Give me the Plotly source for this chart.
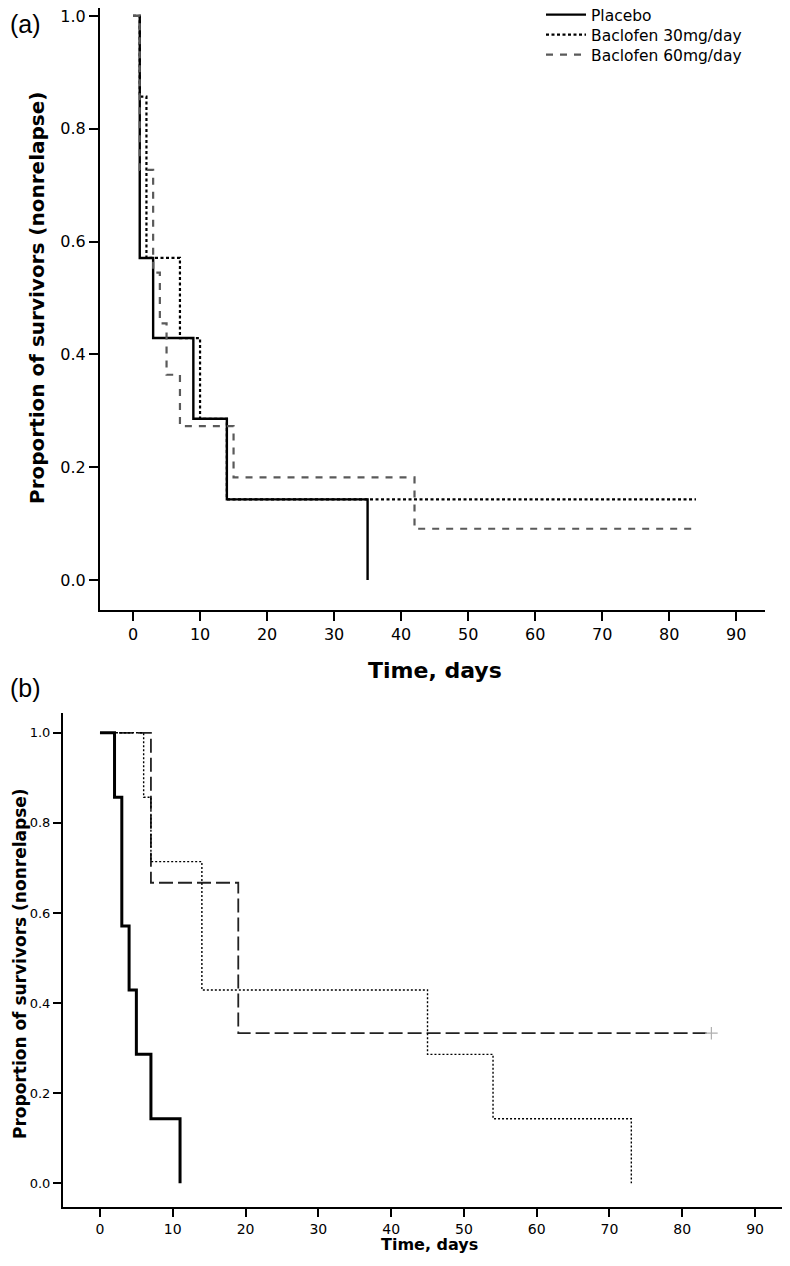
import plotly.graph_objects as go

# ---------------- data ----------------
series_names = ["Placebo", "Baclofen 30mg/day", "Baclofen 60mg/day"]

# Panel (a)
a_placebo_t = [0, 1, 3, 9, 14, 35]
a_placebo_s = [1.0, 0.571, 0.429, 0.286, 0.143, 0.0]
a_bac30_t = [0, 1, 2, 7, 10, 14, 84]
a_bac30_s = [1.0, 0.857, 0.571, 0.429, 0.286, 0.143, 0.143]
a_bac60_t = [0, 1, 3, 4, 5, 7, 15, 42, 84]
a_bac60_s = [1.0, 0.727, 0.545, 0.455, 0.364, 0.273, 0.182, 0.091, 0.091]

# Panel (b)
b_placebo_t = [0, 2, 3, 4, 5, 7, 11]
b_placebo_s = [1.0, 0.857, 0.571, 0.429, 0.286, 0.143, 0.0]
b_bac30_t = [0, 6, 7, 14, 45, 54, 73]
b_bac30_s = [1.0, 0.857, 0.714, 0.429, 0.286, 0.143, 0.0]
b_bac60_t = [0, 7, 19, 84]
b_bac60_s = [1.0, 0.667, 0.333, 0.333]
b_censor_t = [84]
b_censor_s = [0.333]

x_ticks = [0, 10, 20, 30, 40, 50, 60, 70, 80, 90]
y_ticks = [0.0, 0.2, 0.4, 0.6, 0.8, 1.0]
y_ticklabels = ["0.0", "0.2", "0.4", "0.6", "0.8", "1.0"]

# ---------------- figure ----------------
# the page body has an 8px margin, so the figure is 8px smaller than the window
OFF = 8
W, H = 790 - OFF, 1266 - OFF
FONT = "DejaVu Sans"


def fx(p):
    """reference pixel x -> paper fraction"""
    return (p - OFF) / W


def fy(p):
    """reference pixel y -> paper fraction"""
    return 1 - (p - OFF) / H


fig = go.Figure()

# panel a traces (each in its own one-row legend)
fig.add_trace(go.Scatter(x=a_placebo_t, y=a_placebo_s, mode="lines", line_shape="hv",
                         name=series_names[0], legend="legend",
                         line=dict(color="black", width=2.4),
                         xaxis="x", yaxis="y"))
fig.add_trace(go.Scatter(x=a_bac30_t, y=a_bac30_s, mode="lines", line_shape="hv",
                         name=series_names[1], legend="legend2",
                         line=dict(color="black", width=2.2, dash="3px,2.5px"),
                         xaxis="x", yaxis="y"))
fig.add_trace(go.Scatter(x=a_bac60_t, y=a_bac60_s, mode="lines", line_shape="hv",
                         name=series_names[2], legend="legend3",
                         line=dict(color="#5a5a5a", width=2.2, dash="7px,7px"),
                         xaxis="x", yaxis="y"))

# panel b traces
fig.add_trace(go.Scatter(x=b_bac60_t, y=b_bac60_s, mode="lines", line_shape="hv",
                         showlegend=False, line=dict(color="#222222", width=1.8, dash="14px,5px"),
                         xaxis="x2", yaxis="y2"))
fig.add_trace(go.Scatter(x=b_bac30_t, y=b_bac30_s, mode="lines", line_shape="hv",
                         showlegend=False, line=dict(color="black", width=1.4, dash="2px,2px"),
                         xaxis="x2", yaxis="y2"))
fig.add_trace(go.Scatter(x=b_placebo_t, y=b_placebo_s, mode="lines", line_shape="hv",
                         showlegend=False, line=dict(color="black", width=3),
                         xaxis="x2", yaxis="y2"))
fig.add_trace(go.Scatter(x=b_censor_t, y=b_censor_s, mode="markers", showlegend=False,
                         marker=dict(symbol="cross-thin", size=9,
                                     line=dict(color="#b0b0b0", width=1.2)),
                         xaxis="x2", yaxis="y2"))

axis_common = dict(showgrid=False, zeroline=False, showline=True, linecolor="black",
                   linewidth=2, ticks="outside", tickcolor="black", tickwidth=2,
                   ticklabeloverflow="allow")


def legend_at(row_y):
    return dict(x=fx(541), y=fy(row_y), xanchor="left", yanchor="middle",
                bgcolor="rgba(0,0,0,0)", font=dict(size=15.5, family=FONT),
                itemwidth=40, borderwidth=0)


fig.update_layout(
    width=W, height=H,
    margin=dict(l=0, r=0, t=0, b=0, autoexpand=False),
    paper_bgcolor="white", plot_bgcolor="white",
    font=dict(family=FONT, color="black"),
    xaxis=dict(domain=[fx(100), fx(765)], range=[-4.93, 94.3], anchor="y",
               tickvals=x_ticks, ticklen=9, tickfont=dict(size=16), **axis_common),
    yaxis=dict(domain=[fy(610), 1.0], range=[-0.053, 1.014], anchor="x",
               tickvals=y_ticks, ticktext=y_ticklabels, ticklen=9,
               tickfont=dict(size=16), **axis_common),
    xaxis2=dict(domain=[fx(63), 1.0], range=[-5.08, 94.8], anchor="y2",
                tickvals=x_ticks, ticklen=8, tickfont=dict(size=14), **axis_common),
    yaxis2=dict(domain=[fy(1207), fy(713)], range=[-0.053, 1.044], anchor="x2",
                tickvals=y_ticks, ticktext=y_ticklabels, ticklen=8,
                tickfont=dict(size=13), **axis_common),
    legend=legend_at(15),
    legend2=legend_at(35),
    legend3=legend_at(55),
    showlegend=True,
    annotations=[
        dict(text="(a)", x=0.0, y=fy(24), xref="paper", yref="paper",
             xanchor="left", yanchor="middle", showarrow=False,
             font=dict(size=25, family="Liberation Sans")),
        dict(text="(b)", x=0.0, y=fy(688), xref="paper", yref="paper",
             xanchor="left", yanchor="middle", showarrow=False,
             font=dict(size=25, family="Liberation Sans")),
        dict(text="<b>Time, days</b>", x=fx(435), y=fy(670), xref="paper", yref="paper",
             xanchor="center", yanchor="middle", showarrow=False,
             font=dict(size=22, family=FONT)),
        dict(text="<b>Proportion of survivors (nonrelapse)</b>", x=fx(37), y=fy(298),
             xref="paper", yref="paper", xanchor="center", yanchor="middle",
             textangle=-90, showarrow=False, font=dict(size=20, family=FONT)),
        dict(text="<b>Time, days</b>", x=fx(430), y=fy(1244), xref="paper", yref="paper",
             xanchor="center", yanchor="middle", showarrow=False,
             font=dict(size=16, family=FONT)),
        dict(text="<b>Proportion of survivors (nonrelapse)</b>", x=fx(20), y=fy(964),
             xref="paper", yref="paper", xanchor="center", yanchor="middle",
             textangle=-90, showarrow=False, font=dict(size=17, family=FONT)),
    ],
)

fig.write_html("out.html")
